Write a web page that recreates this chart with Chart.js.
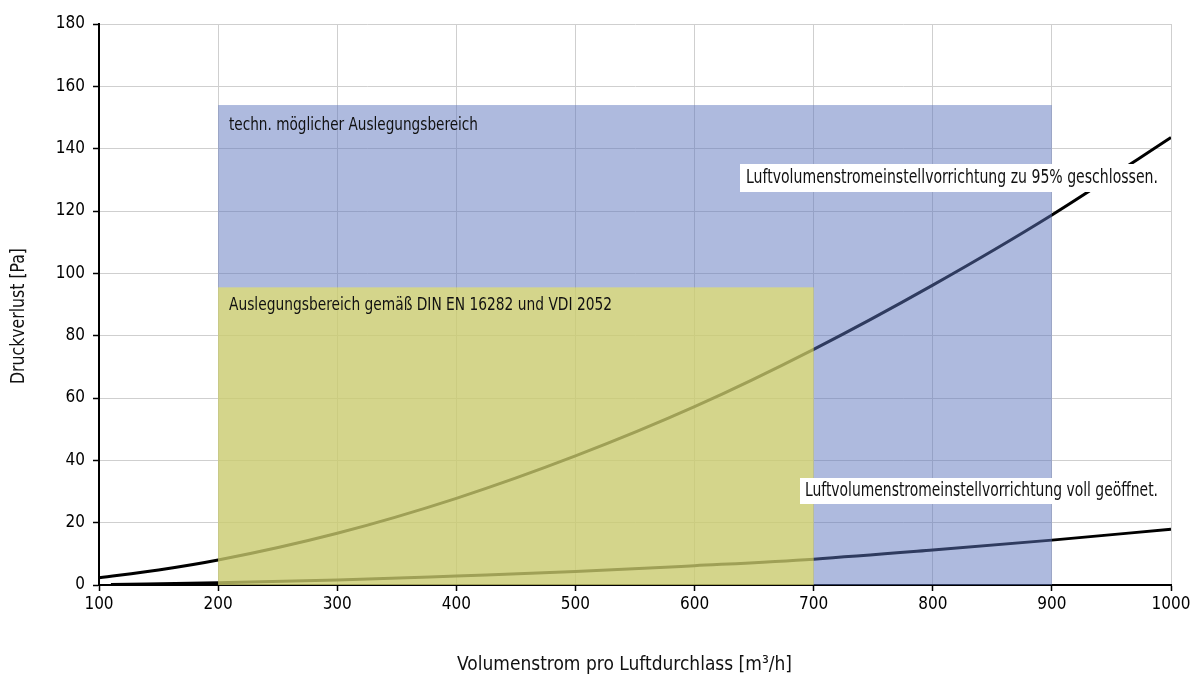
<!DOCTYPE html>
<html>
<head>
<meta charset="utf-8">
<script src="https://cdn.jsdelivr.net/npm/chart.js@4/dist/chart.umd.min.js"></script>
<style>
html,body{margin:0;padding:0;background:#fff;}
#wrap{width:1198px;height:677px;position:relative;}
canvas{display:block;}
</style>
</head>
<body>
<div id="wrap"><canvas id="c" width="1198" height="677" style="width:1198px;height:677px"></canvas></div>
<script>
// ---- data ----
const xTicks = [100, 200, 300, 400, 500, 600, 700, 800, 900, 1000];
const yTicks = [0, 20, 40, 60, 80, 100, 120, 140, 160, 180];

const closedX = [100, 150, 200, 300, 400, 500, 600, 700, 800, 900, 1000];
const closedY = [2.3, 4.8, 8.0, 16.6, 27.8, 41.4, 57.2, 75.6, 96.2, 118.7, 143.6];

const openX = [110, 200, 300, 400, 500, 600, 700, 800, 900, 1000];
const openY = [0.2, 0.7, 1.6, 2.9, 4.3, 6.2, 8.3, 11.2, 14.4, 17.9];

const zoneNames = ['techn. möglicher Auslegungsbereich', 'Auslegungsbereich gemäß DIN EN 16282 und VDI 2052'];
const zoneFrom = [200, 200];
const zoneTo = [900, 700];
const zoneTop = [154, 95.5];

const curveNames = ['Luftvolumenstromeinstellvorrichtung zu 95% geschlossen.', 'Luftvolumenstromeinstellvorrichtung voll geöffnet.'];
const xTitle = 'Volumenstrom pro Luftdurchlass [m³/h]';
const yTitle = 'Druckverlust [Pa]';

// ---- styling ----
const FONT = '"Liberation Sans Narrow", "Arial Narrow", "DejaVu Sans Condensed", "Liberation Sans", sans-serif';
const zoneFill = ['rgba(93,117,190,0.5)', 'rgba(242,235,79,0.58)'];

function pts(xs, ys) { return xs.map((x, i) => ({x: x, y: ys[i]})); }

function drawFitted(ctx, text, x, y, size, targetW, rotate) {
  ctx.save();
  ctx.font = size + 'px ' + FONT;
  ctx.textBaseline = 'middle';
  ctx.textAlign = 'left';
  const w = ctx.measureText(text).width;
  const sx = targetW / w;
  ctx.translate(x, y);
  if (rotate) ctx.rotate(-Math.PI / 2);
  ctx.scale(sx, 1);
  ctx.fillStyle = '#111';
  ctx.fillText(text, rotate ? -w / 2 : 0, 0);
  ctx.restore();
}

const overlay = {
  id: 'overlay',
  afterDatasetsDraw(chart) {
    const ctx = chart.ctx;
    const xs = chart.scales.x, ys = chart.scales.y;
    for (let i = 0; i < zoneNames.length; i++) {
      const x0 = xs.getPixelForValue(zoneFrom[i]);
      const x1 = xs.getPixelForValue(zoneTo[i]);
      const y0 = ys.getPixelForValue(zoneTop[i]);
      const y1 = ys.getPixelForValue(0);
      ctx.save();
      ctx.fillStyle = zoneFill[i];
      ctx.fillRect(x0, y0, x1 - x0, y1 - y0);
      ctx.restore();
    }
    drawFitted(ctx, zoneNames[0], 229, 125, 18, 249, false);
    drawFitted(ctx, zoneNames[1], 229, 305, 18, 383, false);
    ctx.save();
    ctx.fillStyle = '#fff';
    ctx.fillRect(740, 164, 425, 28);
    ctx.fillRect(800, 478, 365, 26);
    ctx.restore();
    drawFitted(ctx, curveNames[0], 746, 178, 19, 412, false);
    drawFitted(ctx, curveNames[1], 805, 491, 19, 353, false);
    drawFitted(ctx, xTitle, 457, 665, 20, 335, false);
    drawFitted(ctx, yTitle, 19, 316, 20, 136, true);
  }
};

const tickFont = {family: FONT, size: 17};

new Chart(document.getElementById('c'), {
  type: 'scatter',
  data: {
    datasets: [
      {data: pts(closedX, closedY), showLine: true, borderColor: '#000', borderWidth: 3, pointRadius: 0, cubicInterpolationMode: 'monotone', fill: false},
      {data: pts(openX, openY), showLine: true, borderColor: '#000', borderWidth: 3, pointRadius: 0, cubicInterpolationMode: 'monotone', fill: false}
    ]
  },
  options: {
    responsive: false,
    animation: false,
    devicePixelRatio: 1,
    layout: {padding: {top: 24, right: 27, bottom: 0, left: 0}},
    plugins: {legend: {display: false}, tooltip: {enabled: false}},
    scales: {
      x: {
        type: 'linear', min: 100, max: 1000,
        afterBuildTicks: (s) => { s.ticks = xTicks.map(v => ({value: v})); },
        afterFit: (s) => { s.height = 92; },
        grid: {color: '#cfcfcf', lineWidth: 1, tickLength: 6, tickColor: '#000', tickWidth: 1.5},
        border: {display: true, color: '#000', width: 2},
        ticks: {font: tickFont, color: '#000', padding: 3, maxRotation: 0, autoSkip: false, callback: (v) => String(v)}
      },
      y: {
        type: 'linear', min: 0, max: 180,
        afterBuildTicks: (s) => { s.ticks = yTicks.map(v => ({value: v})); },
        afterFit: (s) => { s.width = 99; },
        grid: {color: '#cfcfcf', lineWidth: 1, tickLength: 6, tickColor: '#000', tickWidth: 1.5},
        border: {display: true, color: '#000', width: 2},
        ticks: {font: tickFont, color: '#000', padding: 8, autoSkip: false, callback: (v) => String(v)}
      }
    }
  },
  plugins: [overlay]
});
</script>
</body>
</html>
